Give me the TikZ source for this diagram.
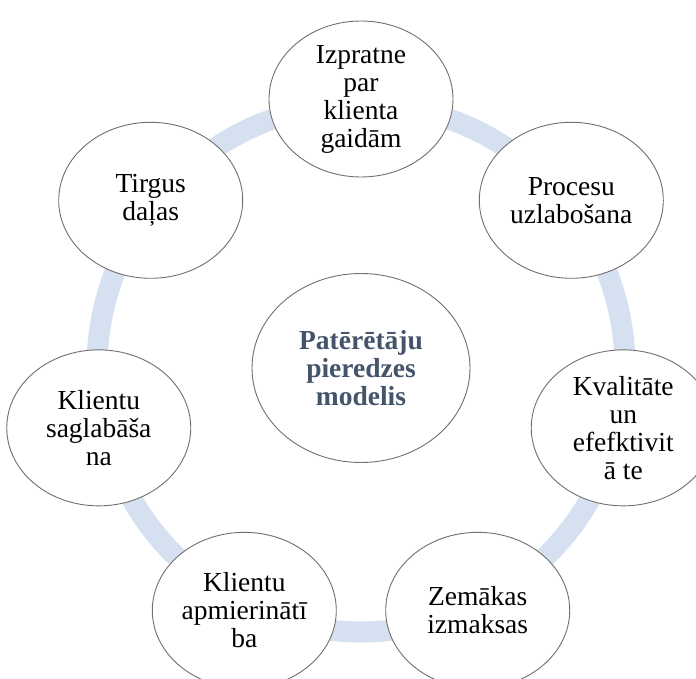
\documentclass[tikz,border=0pt]{standalone}
\usepackage{fontspec}
\setmainfont{Liberation Serif}
\usetikzlibrary{shapes.geometric,calc}
\definecolor{ringblue}{HTML}{D5E0F0}
\definecolor{outline}{HTML}{6F6F6F}
\definecolor{hubtext}{HTML}{44546A}
\begin{document}
\begin{tikzpicture}[x=1pt,y=-1pt,
  ring/.style={draw=ringblue, line width=21pt},
  bubble/.style={ellipse, draw=outline, line width=0.9pt, fill=white,
    minimum width=184pt, minimum height=156pt, inner sep=0pt, align=center,
    font=\fontsize{27.5}{28}\selectfont},
  hub/.style={bubble, minimum width=218pt, minimum height=189pt, text=hubtext,
    font=\bfseries\fontsize{27.5}{28}\selectfont}]
\useasboundingbox (0,0) rectangle (696,679);
\clip (0,0) rectangle (696,679);
% centre of the cycle
\coordinate (C) at (361,368);
% background ring joining the stages
\draw[ring] (C) circle[radius=264];
% central hub
\node[hub] (hub) at (C) {Patērētāju\\pieredzes\\modelis};
% seven stages placed evenly around the ring
\node[bubble] (s1) at ($(C)+(-90:269)$) {Izpratne\\par\\klienta\\gaidām};
\node[bubble] (s2) at ($(C)+(-38.571:269)$) {Procesu\\uzlabošana};
\node[bubble] (s3) at ($(C)+(12.857:269)$) {Kvalitāte\\un\\efefktivit\\ā te};
\node[bubble] (s4) at ($(C)+(64.286:269)$) {Zemākas\\izmaksas};
\node[bubble] (s5) at ($(C)+(115.714:269)$) {Klientu\\apmierinātī\\ba};
\node[bubble] (s6) at ($(C)+(167.143:269)$) {Klientu\\saglabāša\\na};
\node[bubble] (s7) at ($(C)+(218.571:269)$) {Tirgus\\daļas};
\end{tikzpicture}
\end{document}
